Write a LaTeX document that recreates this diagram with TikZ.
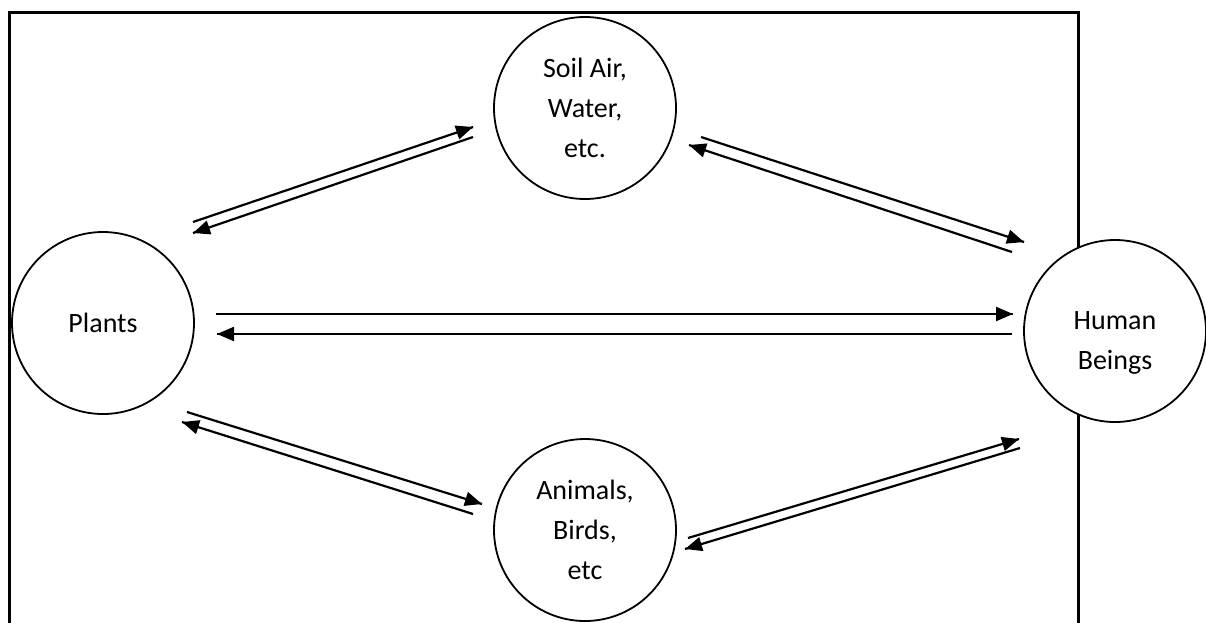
\documentclass[tikz,border=0pt]{standalone}
\usepackage{fontspec}
\setmainfont{Carlito}
\usetikzlibrary{arrows.meta, decorations.markings}

\begin{document}
\begin{tikzpicture}[%
		x=1pt, y=-1pt,
		entity/.style={
			circle,
			minimum size=182pt,
			inner sep=0pt,
			line width=1.8pt,
			black,
			align=center,
			font=\fontsize{28}{40}\selectfont,
			draw
		},
		flowarrow/.style={
			line width=2.2pt,
			decoration={markings,mark=at position 1 with {\arrow{Triangle[length=17pt,width=14pt]}}},
			postaction={decorate}
		},
		border/.style={
			line width=3pt
		}]

		\useasboundingbox (0,0) rectangle (1206,622);

		% FRAME

		\draw[border] (9.5,640) -- (9.5,12) -- (1078,12) -- (1078,640);

		% CIRCLES

		\node (plants) [entity, fill=white] at (103,323) {Plants};
		\node (soil) [entity, fill=white] at (585,108) {Soil Air,\\Water,\\etc.};
		\node (human) [entity, fill=white, label={[align=center, font=\fontsize{28}{40}\selectfont, yshift=-12pt]center:{Human\\Beings}}] at (1115,331) {};
		\node (animals) [entity, fill=white] at (585,530) {Animals,\\Birds,\\etc};

		% ARROW ENDS

		\coordinate (ps-a) at (193,222);  \coordinate (ps-b) at (473,127);
		\coordinate (sp-a) at (473,137);  \coordinate (sp-b) at (193,233);
		\coordinate (sh-a) at (701,137);  \coordinate (sh-b) at (1024,242);
		\coordinate (hs-a) at (1012,252); \coordinate (hs-b) at (689,145);
		\coordinate (ph-a) at (216,314);  \coordinate (ph-b) at (1013,314);
		\coordinate (hp-a) at (1012,334); \coordinate (hp-b) at (217,334);
		\coordinate (pa-a) at (187,412);  \coordinate (pa-b) at (482,504);
		\coordinate (ap-a) at (473,514);  \coordinate (ap-b) at (182,422);
		\coordinate (ah-a) at (688,538);  \coordinate (ah-b) at (1019,439);
		\coordinate (ha-a) at (1020,448); \coordinate (ha-b) at (685,549);

		% ARROWS

		\draw[flowarrow] (ps-a) -- (ps-b);
		\draw[flowarrow] (sp-a) -- (sp-b);
		\draw[flowarrow] (sh-a) -- (sh-b);
		\draw[flowarrow] (hs-a) -- (hs-b);
		\draw[flowarrow] (ph-a) -- (ph-b);
		\draw[flowarrow] (hp-a) -- (hp-b);
		\draw[flowarrow] (pa-a) -- (pa-b);
		\draw[flowarrow] (ap-a) -- (ap-b);
		\draw[flowarrow] (ah-a) -- (ah-b);
		\draw[flowarrow] (ha-a) -- (ha-b);
\end{tikzpicture}
\end{document}
